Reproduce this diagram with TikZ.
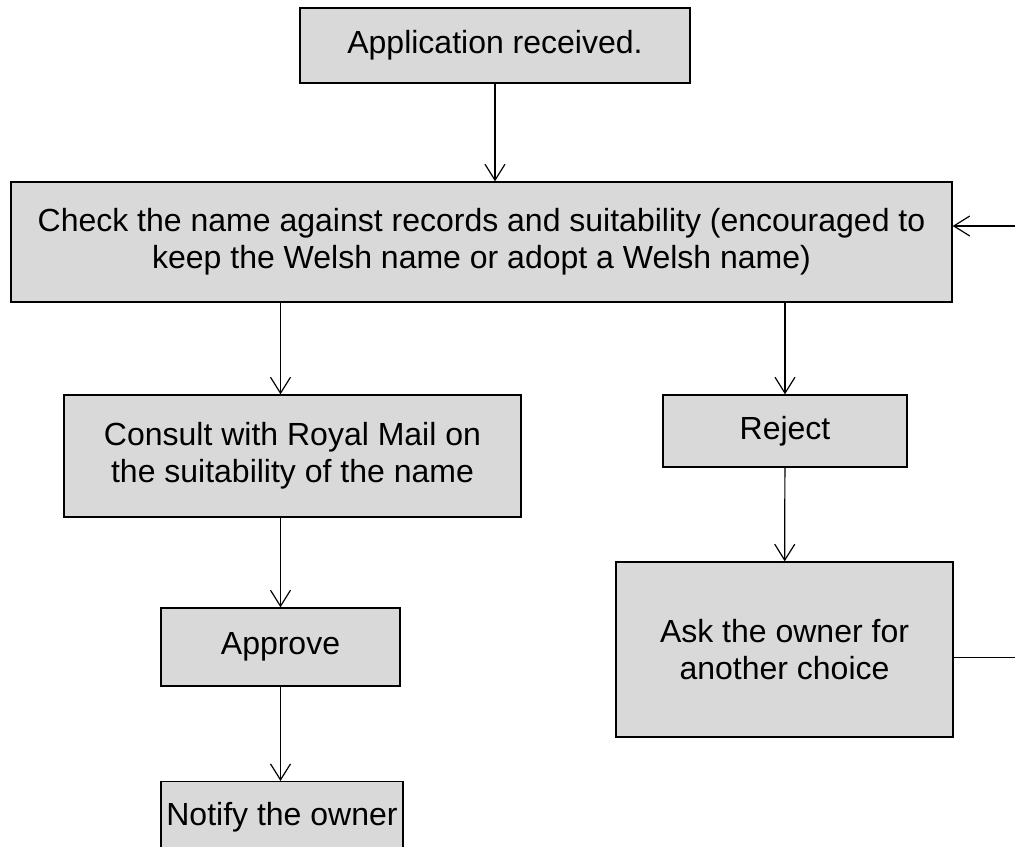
\documentclass[tikz,border=0pt]{standalone}
\usepackage{fontspec}
\setmainfont{Liberation Sans}
\usetikzlibrary{arrows.meta}
\definecolor{boxgray}{RGB}{217,217,217}
\begin{document}
\begin{tikzpicture}[x=0.75pt, y=-0.75pt,
    box/.style={draw, line width=1pt, fill=boxgray, align=center, inner sep=0pt,
        font=\fontsize{24}{27.6}\selectfont},
    arr/.style={-{Straight Barb[length=12pt,width=15pt]}, line width=0.9pt}]
    \useasboundingbox (0,0) rectangle (1015,847);

    \node[box, minimum width=292.5pt, minimum height=56.25pt] (app) at (495,45.5)
        {Application received.};
    \node[box, minimum width=705.75pt, minimum height=90pt] (check) at (481.5,242)
        {Check the name against records and suitability (encouraged to\\
         keep the Welsh name or adopt a Welsh name)};
    \node[box, minimum width=342.75pt, minimum height=91.5pt] (consult) at (292.5,456)
        {Consult with Royal Mail on\\ the suitability of the name};
    \node[box, minimum width=183pt, minimum height=54pt] (reject) at (785,431)
        {Reject};
    \node[box, minimum width=252.75pt, minimum height=131.25pt] (ask) at (784.5,649.5)
        {Ask the owner for\\ another choice};
    \node[box, minimum width=179.25pt, minimum height=58.5pt] (approve) at (280.5,647)
        {Approve};
    \node[box, minimum width=181.5pt, anchor=north, text height=32.6pt, text depth=34pt]
        (notify) at (282,781) {Notify the owner};

    \coordinate (loop) at (1040,226);

    \draw[arr] (app) -- (app |- check.north);
    \draw[arr] (check.south -| approve) -- (consult.north -| approve);
    \draw[arr] (check.south -| reject) -- (reject);
    \draw[arr] (reject) -- (ask);
    \draw[arr] (consult.south -| approve) -- (approve);
    \draw[arr] (approve.south) -- (approve.south |- notify.north);
    % back to the check when the owner gives another name
    \draw[arr] ([yshift=-6pt]ask.east) -| (loop) -- (loop -| check.east);
\end{tikzpicture}
\end{document}
